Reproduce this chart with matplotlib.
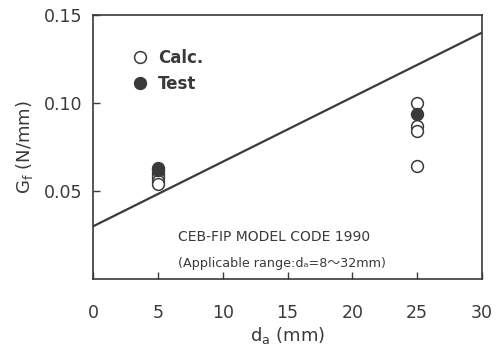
import numpy as np
import matplotlib
matplotlib.use("Agg")
import matplotlib.pyplot as plt

plt.rcParams['font.family'] = ['DejaVu Sans', 'Noto Sans CJK JP']

# fracture energy vs. max aggregate size
calc_da = [5, 5, 5, 5, 25, 25, 25, 25]
calc_gf = [0.060, 0.058, 0.056, 0.054, 0.100, 0.087, 0.084, 0.064]
test_da = [5, 5, 25]
test_gf = [0.063, 0.062, 0.094]

# CEB-FIP Model Code 1990 line
code_da = [0, 30]
code_gf = [0.030, 0.140]

xticks = [0, 5, 10, 15, 20, 25, 30]
yticks = [0.05, 0.10, 0.15]

ink = '#3a3a3a'

fig = plt.figure(figsize=(5, 3.49), dpi=100)
ax = fig.add_axes([0.186, 0.20, 0.778, 0.757])

ax.plot(code_da, code_gf, color=ink, lw=1.6, zorder=2)
ax.plot(calc_da, calc_gf, 'o', ms=8.5, mfc='white', mec=ink, mew=1.1,
        zorder=3, label='Calc.')
ax.plot(test_da, test_gf, 'o', ms=8.5, mfc=ink, mec=ink, mew=1.1,
        zorder=4, label='Test')

ax.set_xlim(0, 30)
ax.set_ylim(0, 0.15)
ax.set_xticks(xticks)
ax.set_yticks(yticks)
ax.set_yticklabels(['%.2f' % v for v in yticks])
ax.tick_params(direction='in', length=5, width=1, colors=ink,
               labelsize=12.5, pad=8)
ax.tick_params(axis='x', pad=18)
for s in ax.spines.values():
    s.set_color(ink)
    s.set_linewidth(1.2)

ax.set_xlabel('d$_\\mathregular{a}$ (mm)', fontsize=13, color=ink, labelpad=2)
ax.set_ylabel('G$_\\mathregular{f}$ (N/mm)', fontsize=13, color=ink, labelpad=6)

leg = ax.legend(loc='upper left', bbox_to_anchor=(0.06, 0.93), frameon=False,
                handletextpad=0.6, labelspacing=0.5, handlelength=1.0,
                prop={'weight': 'bold', 'size': 12})
for t in leg.get_texts():
    t.set_color(ink)

ax.text(0.218, 0.145, 'CEB-FIP MODEL CODE 1990', transform=ax.transAxes,
        fontsize=10, color=ink)
ax.text(0.218, 0.045, '(Applicable range:dₐ=8～32mm)',
        transform=ax.transAxes, fontsize=9.2, color=ink)

fig.savefig('out.png', dpi=100)
